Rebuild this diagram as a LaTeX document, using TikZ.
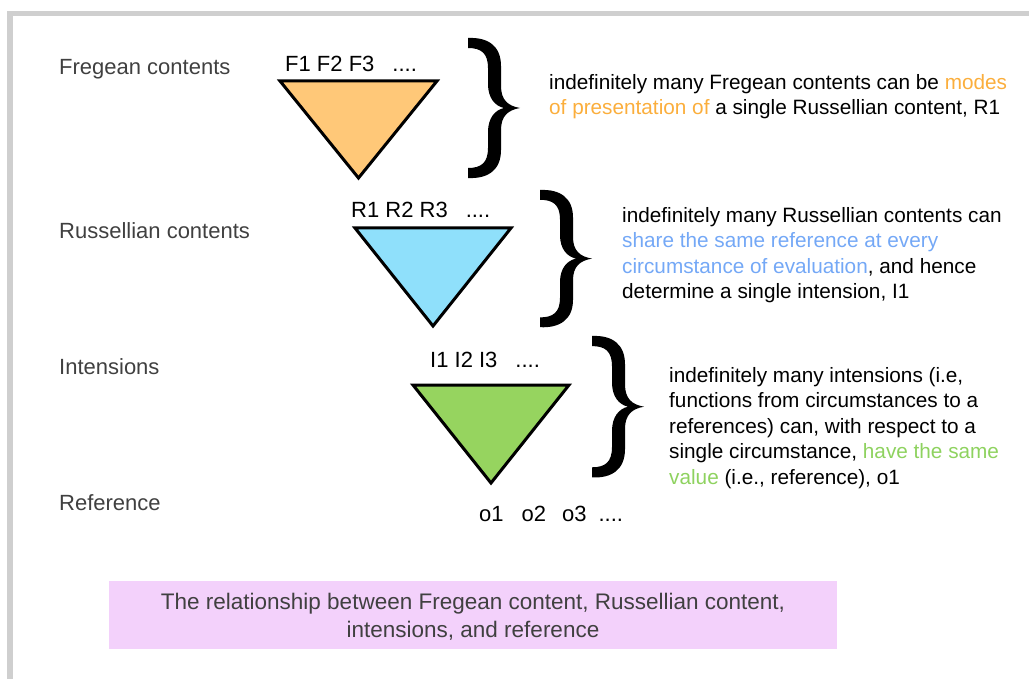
\documentclass[tikz,border=0pt]{standalone}
\usepackage{fontspec}
\setmainfont{Liberation Sans}
\usepackage{tikz}
\usetikzlibrary{calc}

\definecolor{framegray}{HTML}{CFCFCF}
\definecolor{labelgray}{HTML}{404040}
\definecolor{fregefill}{HTML}{FFC878}
\definecolor{russfill}{HTML}{8FE0FB}
\definecolor{intfill}{HTML}{96D45F}
\definecolor{fregetext}{HTML}{FBAE3C}
\definecolor{russtext}{HTML}{74A8F6}
\definecolor{inttext}{HTML}{8ED25F}
\definecolor{captionfill}{HTML}{F3D1FB}

\tikzset{
	layer/.style={anchor=west, inner sep=0pt, text=labelgray, font=\fontsize{22}{26}\selectfont},
	members/.style={anchor=west, inner sep=0pt, font=\fontsize{22}{26}\selectfont},
	remark/.style={anchor=west, inner sep=0pt, align=left, font=\fontsize{20.75}{25.5}\selectfont},
	wedge/.style={draw=black, line width=3pt, line join=miter},
	bigbrace/.pic={
		\fill (0,0) .. controls (20,-1) and (33,8) .. (33,28) -- (33,48)
			.. controls (33,62) and (40,68) .. (52,70)
			.. controls (40,72) and (33,78) .. (33,92) -- (33,112)
			.. controls (33,132) and (20,141) .. (0,140) -- (0,130)
			.. controls (13,130) and (20,125) .. (20,110) -- (20,94)
			.. controls (20,80) and (27,72) .. (36,70)
			.. controls (27,68) and (20,60) .. (20,46) -- (20,30)
			.. controls (20,15) and (13,10) .. (0,10) -- cycle;
	}
}

\begin{document}
\begin{tikzpicture}[x=1pt, y=-1pt]
		\useasboundingbox (0,0) rectangle (1029,679);
		\fill[framegray] (7,11) rectangle (1029,16);
		\fill[framegray] (7,11) rectangle (13,679);
		
		\node[layer] (fregean) at (59,69) {Fregean contents};
		\node[layer] (russellian) at (59,231) {Russellian contents};
		\node[layer] (intensions) at (59,367) {Intensions};
		\node[layer] (reference) at (59,503) {Reference};
		
		\draw[wedge, fill=fregefill] (280,81) -- (437,81) -- (358.5,178) -- cycle;
		\draw[wedge, fill=russfill] (355,228) -- (511,228) -- (433,326) -- cycle;
		\draw[wedge, fill=intfill] (413,385) -- (569,385) -- (491,483) -- cycle;
		
		\node[members] (fset) at (285,64) {F1 F2 F3\hspace{18pt}....};
		\node[members] (rset) at (351,210) {R1 R2 R3\hspace{18pt}....};
		\node[members] (iset) at (430,360) {I1 I2 I3\hspace{18pt}....};
		\node[members] (oset) at (479,514) {o1\hspace{18pt}o2\hspace{16pt}o3\hspace{12pt}....};
		
		\pic at (468,38) {bigbrace};
		\pic at (540,190) [yscale=0.98] {bigbrace};
		\pic at (592,336) [yscale=1.01] {bigbrace};
		
		\node[remark] (fregenote) at (549,96.5) {indefinitely many Fregean contents can be \textcolor{fregetext}{modes}\\
			\textcolor{fregetext}{of presentation of} a single Russellian content, R1};
		\node[remark] (russnote) at (622,255) {indefinitely many Russellian contents can\\
			\textcolor{russtext}{share the same reference at every}\\
			\textcolor{russtext}{circumstance of evaluation}, and hence\\
			determine a single intension, I1};
		\node[remark] (intnote) at (669,428) {indefinitely many intensions (i.e,\\
			functions from circumstances to a\\
			references) can, with respect to a\\
			single circumstance, \textcolor{inttext}{have the same}\\
			\textcolor{inttext}{value} (i.e., reference), o1};
		
		\node[fill=captionfill, minimum width=728pt, minimum height=68pt, inner sep=0pt, align=center,
			text=labelgray, font=\fontsize{22.5}{28}\selectfont] (caption) at (473,615) {};
		\node[align=center, inner sep=0pt, text=labelgray, font=\fontsize{22.5}{28}\selectfont] (captext) at (473,617)
			{The relationship between Fregean content, Russellian content,\\ intensions, and reference};
	\end{tikzpicture}
\end{document}
